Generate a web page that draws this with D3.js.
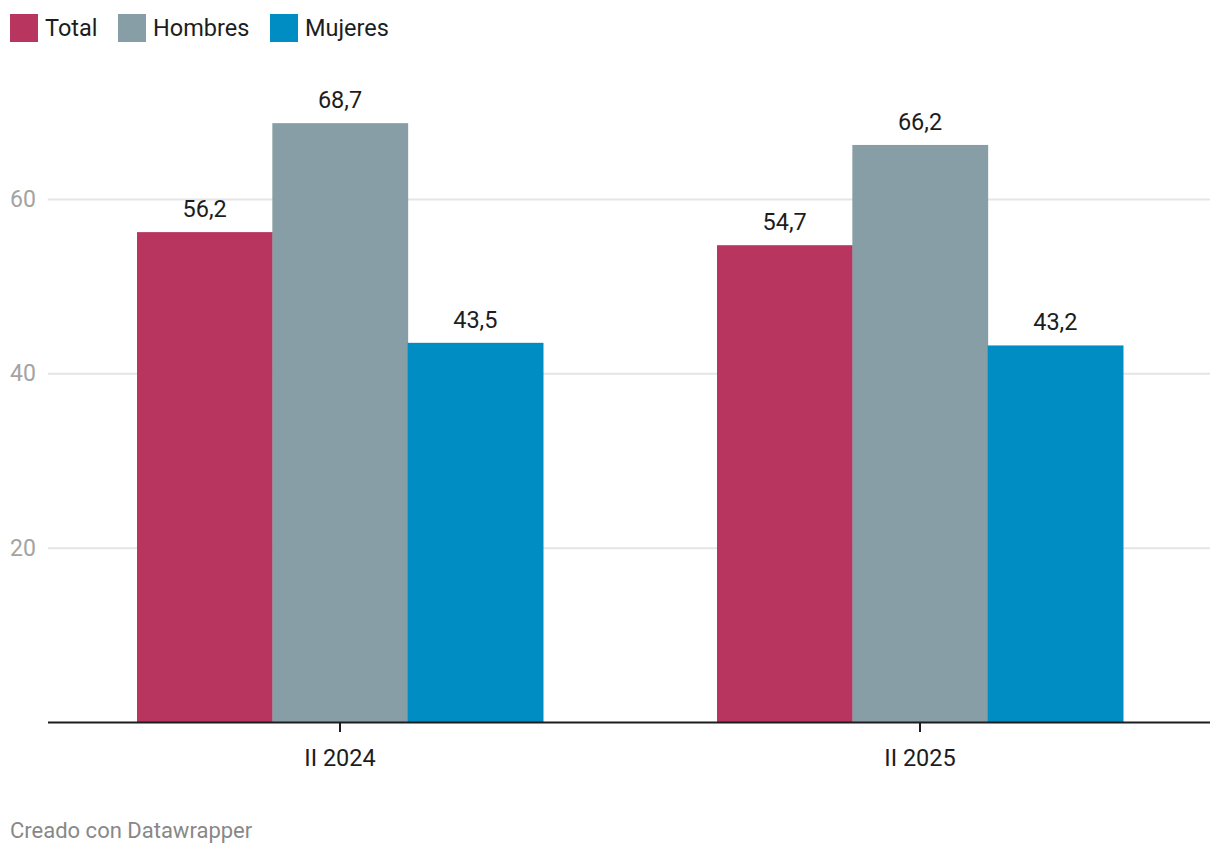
<!DOCTYPE html>
<html>
<head>
<meta charset="utf-8">
<script src="https://cdn.jsdelivr.net/npm/d3@7"></script>
<style>
    body { margin: 0; background: #fff; font-family: Roboto, sans-serif; }
</style>
</head>
<body>
<div id="chart"></div>
<script>
    'use strict';

    var periods = ['II 2024', 'II 2025'];
    var seriesNames = ['Total', 'Hombres', 'Mujeres'];
    var totalValues = [56.2, 54.7];
    var hombresValues = [68.7, 66.2];
    var mujeresValues = [43.5, 43.2];
    var yTicks = [20, 40, 60];
    var colors = ['#b7355f', '#889ea6', '#008dc3'];

    var width = 1220, height = 854;
    var margin = { top: 0, left: 50, right: 10 };
    var baseY = 722;

    var rows = periods.map(function(p, i) {
        return { period: p, values: [totalValues[i], hombresValues[i], mujeresValues[i]] };
    });

    var svg = d3.select('#chart').append('svg')
        .attr('width', width)
        .attr('height', height);

    var x0 = d3.scaleBand()
        .domain(periods)
        .range([margin.left, width - margin.right])
        .padding(0);

    var x1 = d3.scaleBand()
        .domain(seriesNames)
        .range([0, x0.bandwidth()])
        .paddingInner(0)
        .paddingOuter(0.643);

    var y = d3.scaleLinear()
        .domain([0, 60])
        .range([baseY, 199]);

    var color = d3.scaleOrdinal().domain(seriesNames).range(colors);

    // gridlines
    svg.append('g').selectAll('line')
        .data(yTicks)
        .join('line')
        .attr('x1', 48)
        .attr('x2', 1210)
        .attr('y1', function(d) { return y(d) + 0.5; })
        .attr('y2', function(d) { return y(d) + 0.5; })
        .attr('stroke', '#e5e5e5')
        .attr('stroke-width', 2);

    svg.append('g').selectAll('text')
        .data(yTicks)
        .join('text')
        .attr('x', 10)
        .attr('y', function(d) { return y(d) + 8; })
        .attr('fill', '#a3a3a3')
        .style('font-size', '23px')
        .text(function(d) { return d; });

    // bars
    var groups = svg.append('g').selectAll('g')
        .data(rows)
        .join('g')
        .attr('transform', function(d) { return 'translate(' + x0(d.period) + ',0)'; });

    groups.selectAll('rect')
        .data(function(d) { return d.values.map(function(v, i) { return { key: seriesNames[i], value: v }; }); })
        .join('rect')
        .attr('x', function(d) { return x1(d.key); })
        .attr('width', x1.bandwidth() + 0.5)
        .attr('y', function(d) { return y(d.value); })
        .attr('height', function(d) { return y(0) - y(d.value); })
        .attr('fill', function(d) { return color(d.key); });

    groups.selectAll('text')
        .data(function(d) { return d.values.map(function(v, i) { return { key: seriesNames[i], value: v }; }); })
        .join('text')
        .attr('x', function(d) { return x1(d.key) + x1.bandwidth() / 2; })
        .attr('y', function(d) { return y(d.value) - 15; })
        .attr('text-anchor', 'middle')
        .attr('fill', '#1d1d1d')
        .style('font-size', '23.5px')
        .text(function(d) { return d3.format('.1f')(d.value).replace('.', ','); });

    // x axis
    var xAxis = svg.append('g')
        .attr('transform', 'translate(0,' + baseY + ')')
        .call(d3.axisBottom(x0).tickSize(10).tickSizeOuter(0));
    xAxis.select('.domain').attr('stroke', '#1d1d1d').attr('stroke-width', 2)
        .attr('d', 'M48,0.5H1210');
    xAxis.selectAll('.tick line').attr('stroke', '#1d1d1d').attr('stroke-width', 2);
    xAxis.selectAll('.tick text')
        .attr('y', 44)
        .attr('dy', null)
        .attr('fill', '#1d1d1d')
        .style('font-family', 'Roboto, sans-serif')
        .style('font-size', '23.5px');

    // legend
    var legendX = [10, 118, 270];
    var legend = svg.append('g').selectAll('g')
        .data(seriesNames)
        .join('g')
        .attr('transform', function(d, i) { return 'translate(' + legendX[i] + ',14)'; });
    legend.append('rect')
        .attr('width', 28)
        .attr('height', 28)
        .attr('fill', function(d) { return color(d); });
    legend.append('text')
        .attr('x', 35)
        .attr('y', 22)
        .attr('fill', '#1d1d1d')
        .style('font-size', '23.5px')
        .text(function(d) { return d; });

    svg.append('text')
        .attr('x', 10)
        .attr('y', 838)
        .attr('fill', '#888')
        .style('font-size', '22px')
        .text('Creado con Datawrapper');
</script>
</body>
</html>
